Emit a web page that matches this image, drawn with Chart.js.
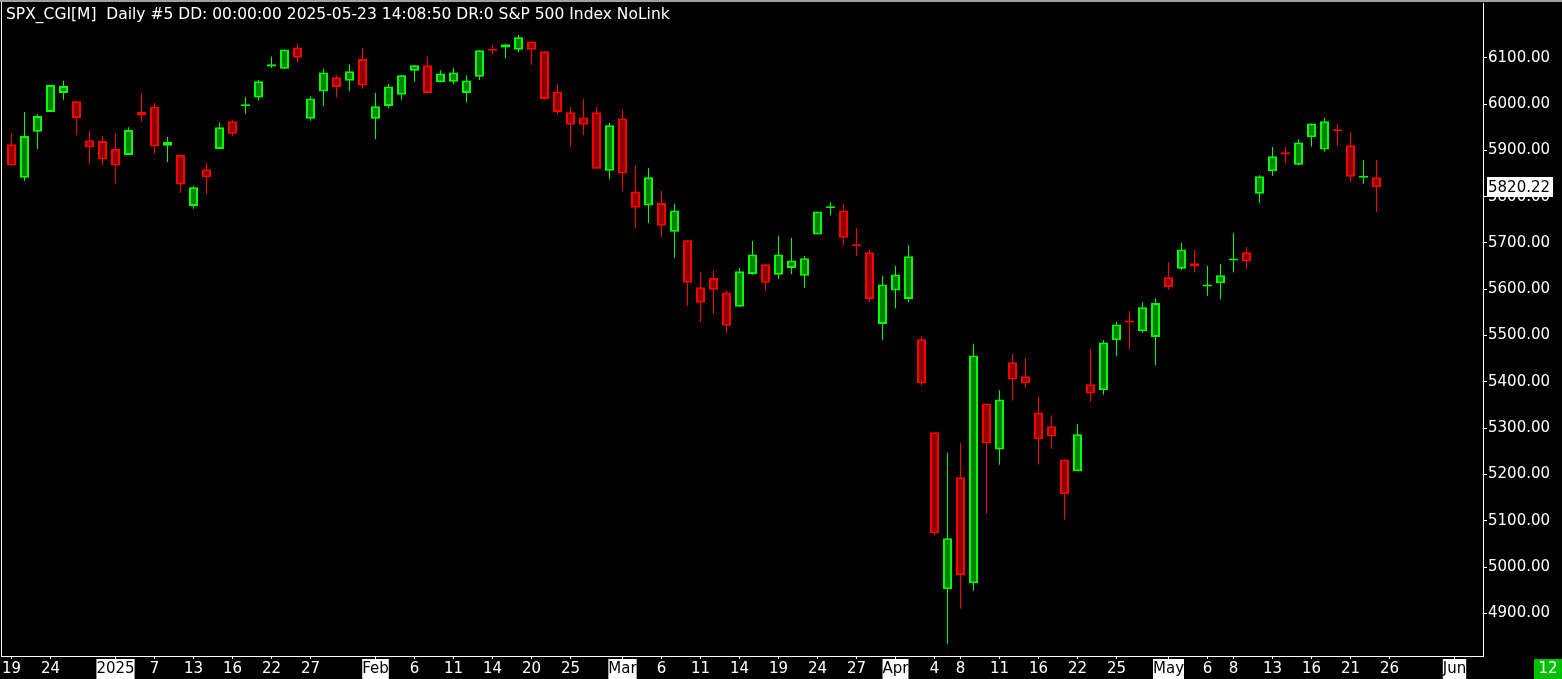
<!DOCTYPE html>
<html>
<head>
<meta charset="utf-8">
<script src="https://cdn.jsdelivr.net/npm/chart.js@4.4.1/dist/chart.umd.min.js"></script>
<style>
html,body{margin:0;padding:0;background:#000;overflow:hidden}
#wrap{width:1562px;height:679px;position:relative}
canvas{display:block}
</style>
</head>
<body>
<div id="wrap"><canvas id="c" width="1562" height="679"></canvas></div>
<script>
// ---- data ----
const titleText = "SPX_CGI[M]  Daily #5 DD: 00:00:00 2025-05-23 14:08:50 DR:0 S&P 500 Index NoLink";
const dates = [
 "2024-12-19","2024-12-20","2024-12-23","2024-12-24","2024-12-26","2024-12-27","2024-12-30","2024-12-31",
 "2025-01-02","2025-01-03","2025-01-06","2025-01-07","2025-01-08","2025-01-10","2025-01-13","2025-01-14","2025-01-15","2025-01-16","2025-01-17","2025-01-21","2025-01-22","2025-01-23","2025-01-24","2025-01-27","2025-01-28","2025-01-29","2025-01-30","2025-01-31",
 "2025-02-03","2025-02-04","2025-02-05","2025-02-06","2025-02-07","2025-02-10","2025-02-11","2025-02-12","2025-02-13","2025-02-14","2025-02-18","2025-02-19","2025-02-20","2025-02-21","2025-02-24","2025-02-25","2025-02-26","2025-02-27","2025-02-28",
 "2025-03-03","2025-03-04","2025-03-05","2025-03-06","2025-03-07","2025-03-10","2025-03-11","2025-03-12","2025-03-13","2025-03-14","2025-03-17","2025-03-18","2025-03-19","2025-03-20","2025-03-21","2025-03-24","2025-03-25","2025-03-26","2025-03-27","2025-03-28","2025-03-31",
 "2025-04-01","2025-04-02","2025-04-03","2025-04-04","2025-04-07","2025-04-08","2025-04-09","2025-04-10","2025-04-11","2025-04-14","2025-04-15","2025-04-16","2025-04-17","2025-04-21","2025-04-22","2025-04-23","2025-04-24","2025-04-25","2025-04-28","2025-04-29","2025-04-30",
 "2025-05-01","2025-05-02","2025-05-05","2025-05-06","2025-05-07","2025-05-08","2025-05-09","2025-05-12","2025-05-13","2025-05-14","2025-05-15","2025-05-16","2025-05-19","2025-05-20","2025-05-21","2025-05-22","2025-05-23"
];
const opens = [
 5913,5841,5940,5983,6024,6006,5922,5920,
 5903,5890,5983,5994,5910,5890,5780,5859,5903,5963,5995,6014,6081,6076,6122,5968,6027,6058,6050,6097,
 5968,5996,6020,6072,6084,6047,6048,6024,6059,6116,6122,6117,6135,6114,6027,5982,5971,5982,5856,
 5969,5811,5781,5786,5724,5706,5604,5624,5593,5562,5633,5654,5631,5646,5629,5718,5775,5770,5694,5680,5525,
 5597,5579,5492,5291,4952,5194,4965,5353,5254,5442,5412,5334,5304,5232,5207,5395,5382,5490,5529,5509,5497,
 5626,5644,5656,5606,5613,5662,5680,5806,5855,5896,5869,5928,5902,5945,5911,5841,5842
];
const highs = [
 5935,5983,5978,6041,6050,6006,5942,5931,
 5935,5950,6022,6002,5929,5890,5823,5873,5960,5965,6015,6052,6102,6118,6130,6017,6076,6062,6086,6121,
 6024,6043,6062,6084,6102,6073,6078,6062,6116,6127,6129,6149,6135,6114,6043,5994,6011,5994,5959,
 5987,5866,5862,5812,5784,5706,5637,5641,5598,5646,5704,5654,5715,5711,5672,5768,5788,5784,5732,5687,5628,
 5650,5695,5499,5291,5246,5268,5482,5353,5382,5460,5451,5367,5328,5232,5309,5471,5490,5529,5553,5572,5580,
 5658,5701,5685,5650,5654,5721,5691,5846,5907,5907,5924,5958,5970,5955,5940,5879,5879
];
const lows = [
 5866,5834,5903,5983,6009,5933,5870,5868,
 5829,5890,5962,5893,5875,5808,5774,5806,5903,5931,5979,6007,6078,6076,6089,5964,5996,6014,6028,6033,
 5924,5991,6009,6048,6022,6047,6043,6004,6052,6108,6099,6112,6084,6009,5978,5909,5933,5860,5838,
 5812,5732,5743,5713,5668,5564,5530,5547,5506,5562,5631,5598,5622,5633,5603,5718,5760,5695,5672,5572,5490,
 5559,5572,5392,5069,4834,4910,4949,5115,5221,5359,5387,5221,5255,5102,5207,5357,5372,5456,5469,5506,5435,
 5599,5642,5636,5586,5579,5636,5644,5787,5845,5873,5867,5908,5897,5910,5832,5828,5767
];
const closes = [
 5867,5931,5974,6041,6039,5970,5906,5880,
 5867,5944,5975,5908,5918,5826,5820,5842,5950,5936,5997,6049,6086,6118,6100,6012,6068,6037,6071,6040,
 5995,6038,6062,6084,6024,6066,6068,6051,6116,6115,6129,6144,6117,6011,5983,5955,5955,5860,5954,
 5850,5776,5842,5737,5770,5614,5571,5599,5521,5639,5675,5614,5675,5662,5667,5768,5776,5711,5693,5579,5610,
 5632,5671,5397,5073,5062,4982,5457,5267,5362,5405,5397,5276,5282,5157,5287,5375,5485,5524,5528,5561,5570,
 5604,5686,5649,5607,5630,5665,5660,5844,5887,5891,5917,5958,5963,5941,5843,5842,5820.22
];
// x-axis labels: slot index (trading-day position, future slots continue past the data) and text
const tickIndex  = [0,3,8,11,14,17,20,23,28,31,34,37,40,43,47,50,53,56,59,62,65,68,71,73,76,79,82,85,89,92,94,97,100,103,106,111];
const tickLabels = ["19","24","2025","7","13","16","22","27","Feb","6","11","14","20","25","Mar","6","11","14","19","24","27","Apr","4","8","11","16","22","25","May","6","8","13","16","21","26","Jun"];
const highlightLabels = ["2025","Feb","Mar","Apr","May","Jun"];
const yTickValues = [4900,5000,5100,5200,5300,5400,5500,5600,5700,5800,5900,6000,6100];
const lastPrice = 5820.22;
const barCounter = "12";

// ---- styling ----
const GREEN_LINE = '#00ff00', GREEN_FILL = '#008000';
const RED_LINE = '#ff0000', RED_FILL = '#8b0000';
const FONT = '"DejaVu Sans", sans-serif';
const isUp = i => closes[i] >= opens[i];

const wickData = dates.map((d, i) => ({x: i, y: [lows[i], highs[i]]}));
const bodyData = dates.map((d, i) => ({x: i, y: [opens[i], closes[i]]}));

const chrome = {
  id: 'chrome',
  beforeDraw(chart) {
    const c = chart.ctx;
    c.save();
    c.fillStyle = '#000';
    c.fillRect(0, 0, chart.width, chart.height);
    c.restore();
  },
  afterDraw(chart) {
    const c = chart.ctx, a = chart.chartArea, ys = chart.scales.y;
    c.save();
    // frame
    c.fillStyle = '#a0a0a0';
    c.fillRect(0, 0, chart.width, 2);
    c.fillStyle = '#ffffff';
    c.fillRect(1, 2, 1, a.bottom - 2);
    // title
    c.font = '15.5px ' + FONT;
    c.textAlign = 'left';
    c.textBaseline = 'alphabetic';
    c.fillStyle = '#ffffff';
    c.fillText(titleText, 6, 19);
    // last price marker
    const py = Math.round(ys.getPixelForValue(lastPrice));
    c.font = '15px ' + FONT;
    const lbl = lastPrice.toFixed(2);
    const w = c.measureText(lbl).width;
    c.fillStyle = '#ffffff';
    c.fillRect(a.right + 4, py - 10, w + 4, 20);
    c.fillStyle = '#000000';
    c.textBaseline = 'middle';
    c.fillText(lbl, a.right + 5, py + 1);
    // bar counter
    c.fillStyle = '#00c000';
    c.fillRect(chart.width - 28, a.bottom + 3, 28, chart.height - a.bottom - 3);
    c.fillStyle = '#ffffff';
    c.textAlign = 'center';
    c.fillText(barCounter, chart.width - 14, a.bottom + 13);
    c.restore();
  }
};

const xMin = -0.8077;
const xMax = xMin + 114;

new Chart(document.getElementById('c'), {
  type: 'bar',
  data: {
    datasets: [
      {
        label: 'wick',
        data: wickData,
        backgroundColor: ctx => isUp(ctx.dataIndex) ? GREEN_LINE : RED_LINE,
        borderWidth: 0,
        barThickness: 1,
        inflateAmount: 0,
        grouped: false,
        order: 2
      },
      {
        label: 'body',
        data: bodyData,
        backgroundColor: ctx => isUp(ctx.dataIndex) ? GREEN_FILL : RED_FILL,
        borderColor: ctx => isUp(ctx.dataIndex) ? GREEN_LINE : RED_LINE,
        borderWidth: 2,
        borderSkipped: false,
        barThickness: 9,
        minBarLength: 2,
        inflateAmount: 0,
        grouped: false,
        order: 1
      }
    ]
  },
  options: {
    responsive: false,
    animation: false,
    devicePixelRatio: 1,
    layout: {padding: {left: 1, right: 0, top: 3, bottom: 0}},
    plugins: {legend: {display: false}, tooltip: {enabled: false}, title: {display: false}},
    scales: {
      x: {
        type: 'linear',
        position: 'bottom',
        min: xMin,
        max: xMax,
        offset: false,
        afterFit(scale) { scale.height = 23; scale.paddingLeft = 0; scale.paddingRight = 0; },
        afterBuildTicks(scale) { scale.ticks = tickIndex.map(v => ({value: v})); },
        grid: {display: true, drawOnChartArea: false, drawTicks: true, tickLength: 3, color: '#ffffff', offset: false},
        border: {display: true, color: '#ffffff', width: 1},
        ticks: {
          autoSkip: false,
          maxRotation: 0,
          minRotation: 0,
          padding: 1,
          font: {family: FONT, size: 15},
          callback: v => { const k = tickIndex.indexOf(v); return k >= 0 ? tickLabels[k] : ''; },
          color: ctx => highlightLabels.includes(tickLabels[ctx.index]) ? '#000000' : '#ffffff',
          showLabelBackdrop: ctx => highlightLabels.includes(tickLabels[ctx.index]),
          backdropColor: ctx => highlightLabels.includes(tickLabels[ctx.index]) ? '#ffffff' : 'rgba(0,0,0,0)',
          backdropPadding: {top: 1, bottom: 2, left: 0, right: 0}
        }
      },
      y: {
        type: 'linear',
        position: 'right',
        min: 4807.8,
        max: 6218.2,
        afterFit(scale) { scale.width = 79; scale.paddingTop = 0; scale.paddingBottom = 0; },
        afterBuildTicks(scale) { scale.ticks = yTickValues.map(v => ({value: v})); },
        grid: {display: true, drawOnChartArea: false, drawTicks: true, tickLength: 4, color: '#ffffff'},
        border: {display: true, color: '#ffffff', width: 1},
        ticks: {
          padding: 1,
          color: '#ffffff',
          font: {family: FONT, size: 15},
          callback: v => Number(v).toFixed(2)
        }
      }
    }
  },
  plugins: [chrome]
});
</script>
</body>
</html>
